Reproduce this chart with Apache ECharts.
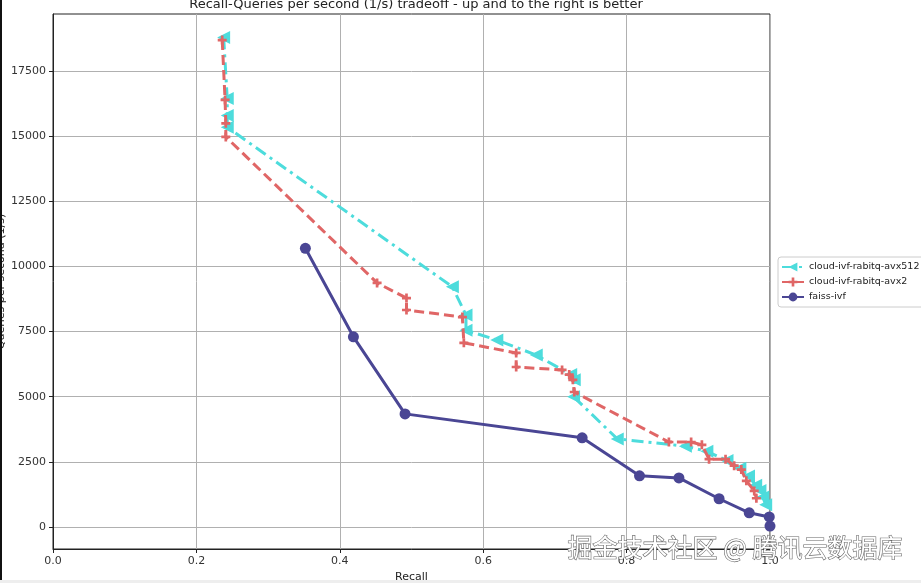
<!DOCTYPE html>
<html>
<head>
<meta charset="utf-8">
<script src="https://cdn.jsdelivr.net/npm/echarts@6/dist/echarts.min.js"></script>
<style>
html,body{margin:0;padding:0;background:#fff;}
#chart{width:921px;height:583px;}
</style>
</head>
<body>
<div id="chart"></div>
<script>
const titleText = "Recall-Queries per second (1/s) tradeoff - up and to the right is better";
const xName = "Recall";
const yName = "Queries per second (1/s)";
const seriesNames = ["cloud-ivf-rabitq-avx512", "cloud-ivf-rabitq-avx2", "faiss-ivf"];
const xTicks = [0, 0.2, 0.4, 0.6, 0.8, 1.0];
const yTicks = [0, 2500, 5000, 7500, 10000, 12500, 15000, 17500];

const avx512 = [
  [0.238, 18800], [0.243, 16450], [0.243, 15800], [0.243, 15350],
  [0.557, 9220], [0.576, 8140], [0.576, 7550], [0.619, 7180],
  [0.674, 6600], [0.722, 5850], [0.727, 5650], [0.726, 5000],
  [0.787, 3380], [0.882, 3100], [0.912, 2900], [0.94, 2550],
  [0.958, 2250], [0.97, 1950], [0.98, 1600], [0.986, 1400],
  [0.99, 1150], [0.994, 850]
];
const avx2 = [
  [0.236, 18700], [0.24, 16400], [0.241, 15500], [0.241, 14980],
  [0.452, 9370], [0.493, 8790], [0.493, 8330], [0.571, 8060],
  [0.573, 7070], [0.646, 6680], [0.646, 6140], [0.71, 6030],
  [0.72, 5850], [0.725, 5650], [0.727, 5180], [0.859, 3260],
  [0.89, 3260], [0.905, 3150], [0.915, 2600], [0.938, 2600],
  [0.95, 2350], [0.96, 2200], [0.967, 1770], [0.978, 1380],
  [0.981, 1100]
];
const faiss = [
  [0.352, 10700], [0.419, 7300], [0.491, 4340], [0.738, 3420],
  [0.818, 1960], [0.873, 1880], [0.929, 1080], [0.971, 540],
  [0.999, 380], [1.0, 30]
];

const colors = ['#4ddcdc', '#e06666', '#4a4694'];
const plusPath = 'path://M3.5,0H6.5V3.5H10V6.5H6.5V10H3.5V6.5H0V3.5H3.5Z';

const chart = echarts.init(document.getElementById('chart'));
const font = 'DejaVu Sans';
chart.setOption({
  animation: false,
  backgroundColor: '#fff',
  title: {
    text: titleText,
    left: 411, textAlign: 'center', top: -7,
    textStyle: {fontFamily: font, fontSize: 13, fontWeight: 'normal', color: '#222'}
  },
  grid: {left: 53, right: 151, top: 14, bottom: 34, show: true, borderColor: '#222', borderWidth: 1,
         containLabel: false, outerBoundsMode: 'none'},
  legend: {
    orient: 'vertical', left: 778, top: 257,
    itemWidth: 22, itemHeight: 11, itemGap: 5,
    padding: [5, 6, 5, 3],
    borderColor: '#ccc', borderWidth: 1, borderRadius: 3,
    textStyle: {fontFamily: font, fontSize: 9.5, color: '#222'},
    data: seriesNames
  },
  xAxis: {
    type: 'value', min: 0, max: 1, interval: 0.2,
    name: xName, nameLocation: 'middle', nameGap: 18,
    nameTextStyle: {fontFamily: font, fontSize: 11, color: '#222'},
    axisLine: {show: true, onZero: false, lineStyle: {color: '#222'}},
    axisTick: {show: true, length: 4, inside: false, lineStyle: {color: '#222'}},
    axisLabel: {fontFamily: font, fontSize: 11, color: '#333', margin: 7, formatter: v => v.toFixed(1)},
    splitLine: {show: true, lineStyle: {color: '#b0b0b0', width: 1}}
  },
  yAxis: {
    type: 'value', min: -850, max: 19700,
    name: yName, nameLocation: 'middle', nameGap: 46, nameRotate: 90, nameMoveOverlap: false,
    nameTextStyle: {fontFamily: font, fontSize: 11, color: '#222'},
    axisLine: {show: true, onZero: false, lineStyle: {color: '#222'}},
    axisTick: {show: true, length: 4, customValues: yTicks, lineStyle: {color: '#222'}},
    axisLabel: {fontFamily: font, fontSize: 11, color: '#333', margin: 7, customValues: yTicks,
                formatter: v => String(v)},
    splitLine: {show: true, lineStyle: {color: '#b0b0b0', width: 1}}
  },
  series: [
    {
      name: seriesNames[0], type: 'line', data: avx512,
      symbol: 'triangle', symbolSize: 13, symbolRotate: 90,
      color: colors[0],
      lineStyle: {width: 3, type: [12, 5, 3, 5], color: colors[0]},
      itemStyle: {color: colors[0]}, z: 2
    },
    {
      name: seriesNames[1], type: 'line', data: avx2,
      symbol: plusPath, symbolSize: 9,
      color: colors[1],
      lineStyle: {width: 3, type: [10, 5], color: colors[1]},
      itemStyle: {color: colors[1]}, z: 3
    },
    {
      name: seriesNames[2], type: 'line', data: faiss,
      symbol: 'circle', symbolSize: 11,
      color: colors[2],
      lineStyle: {width: 3, type: 'solid', color: colors[2]},
      itemStyle: {color: colors[2]}, z: 4
    }
  ],
  graphic: [
    {type: 'rect', left: 0, top: 0, shape: {width: 2, height: 583}, style: {fill: '#111'}, z: 100},
    {type: 'rect', left: 0, top: 580, shape: {width: 921, height: 3}, style: {fill: '#eeeeee'}, z: 100},
    {type: 'text', left: 567, top: 534, z: 100,
     style: {text: '掘金技术社区 @ 腾讯云数据库', font: '25px "Noto Sans CJK SC"', fill: '#fff', stroke: '#666', lineWidth: 1.2}}
  ]
});
</script>
</body>
</html>
